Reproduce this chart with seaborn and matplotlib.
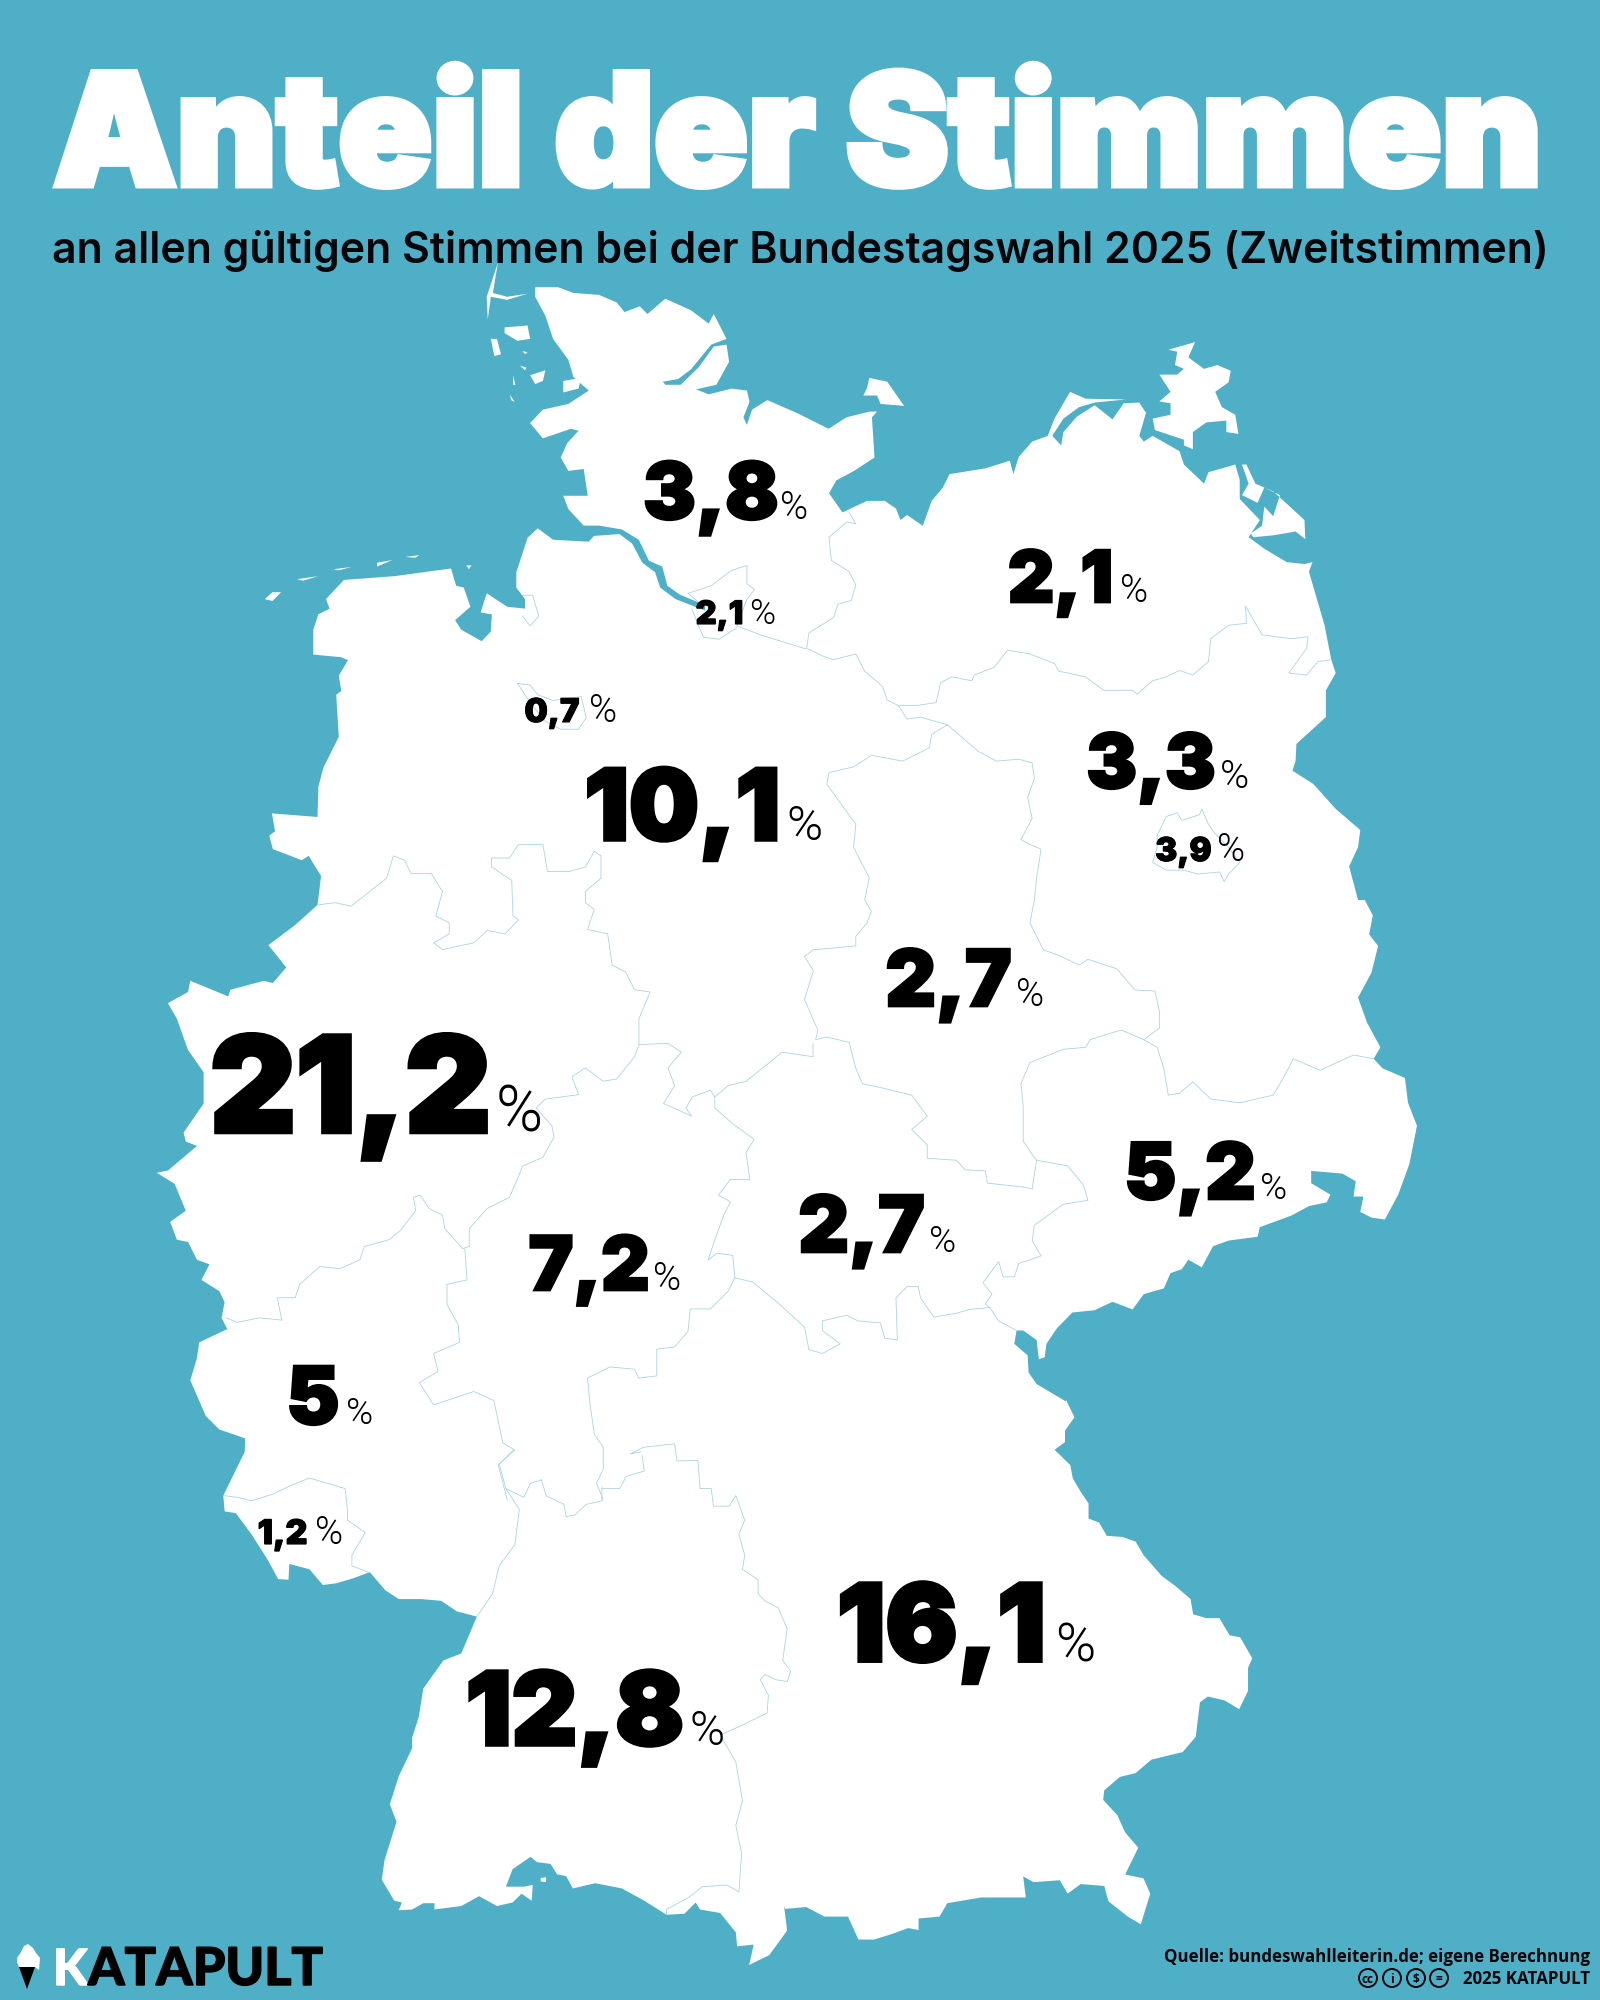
import pandas as pd
import matplotlib.pyplot as plt
import matplotlib.patheffects as pe
from matplotlib.patches import Circle
import seaborn as sns

BG = "#4fafc6"
LINE = "#a9d5e0"
INK = "#05050a"

# crops the outline was traced in: x0, y0, w, h, all shown on a 1568 square
C1 = (150, 270, 800, 600)
C2 = (800, 300, 700, 600)
C3 = (130, 800, 700, 700)
C4 = (800, 900, 700, 600)
C5 = (180, 1450, 700, 550)
C6 = (780, 1400, 820, 600)


def px(crop, pts):
    x0, y0, w, h = crop
    return [(x0 + a * w / 1568, y0 + b * h / 1568) for a, b in pts]


# election result per state
states = ["SH", "HH", "MV", "HB", "NI", "BB", "BE", "ST", "NW", "HE", "TH", "SN", "RP", "SL", "BW", "BY"]
shares = [3.8, 2.1, 2.1, 0.7, 10.1, 3.3, 3.9, 2.7, 21.2, 7.2, 2.7, 5.2, 5, 1.2, 12.8, 16.1]

# label placement, in pixels
num_left = [647, 697, 1011, 526, 590, 1090, 1157, 889, 218, 532, 802, 1128, 288, 259, 472, 843]
num_right = [775, 742, 1110, 578, 775, 1212, 1210, 1008, 483, 646, 921, 1252, 338, 306, 678, 1040]
base_y = [519, 624, 602, 722, 840, 788, 861, 1006, 1132, 1290, 1252, 1199, 1424, 1544, 1745, 1661]
num_h = [65, 27, 66, 25, 84, 65, 27, 65, 109, 65, 64, 65, 64, 28, 85, 94]
pct_x = [780, 749, 1120, 589, 786, 1220, 1217, 1016, 496, 653, 929, 1260, 346, 315, 689, 1055]
pct_h = [28, 26, 28, 28, 36, 29, 28, 28, 47, 28, 27, 27, 27, 28, 35, 40]

coast_1 = [(755, 45), (800, 45), (830, 60), (880, 65), (915, 85), (930, 110), (960, 95), (975, 115), (1010, 75),
           (1060, 105), (1095, 140), (1105, 115), (1130, 180), (1100, 195), (1060, 260), (1035, 285), (1005, 292),
           (1010, 300), (1040, 300), (1075, 255), (1105, 200), (1130, 195), (1135, 240), (1110, 300), (1070, 312),
           (1095, 325), (1140, 310), (1170, 315), (1175, 345), (1163, 385), (1170, 405), (1180, 365), (1210, 340),
           (1270, 375), (1330, 415), (1365, 385), (1410, 370), (1425, 370), (1415, 385), (1420, 490), (1380, 525),
           (1345, 550)]
coast_2 = [(65, 505), (95, 555), (150, 525), (190, 525), (215, 545), (225, 575), (240, 562), (275, 590), (295, 525),
           (320, 490), (335, 455), (415, 440), (470, 420), (478, 455), (490, 410), (520, 370), (555, 355), (570, 310),
           (605, 240), (640, 258), (730, 260), (660, 268), (625, 280), (590, 310), (565, 355), (585, 380), (590, 345),
           (620, 305), (660, 275), (700, 312), (725, 270), (760, 268), (775, 295), (760, 355), (770, 370), (790, 355),
           (850, 395), (860, 430), (905, 480), (915, 450), (975, 430), (985, 470), (985, 520), (1030, 575), (1005, 620),
           (1040, 650), (1090, 685), (1130, 690), (1148, 685), (1140, 710), (1155, 770), (1175, 850), (1190, 940),
           (1200, 975), (1178, 1020), (1178, 1090), (1112, 1160), (1110, 1205), (1103, 1230), (1150, 1265), (1200, 1330),
           (1255, 1385), (1250, 1430), (1230, 1480), (1250, 1568)]
coast_4 = [(1265, 0), (1283, 40), (1275, 90), (1295, 120), (1280, 190), (1250, 255), (1270, 320), (1300, 385), (1285, 415),
           (1305, 440), (1355, 465), (1362, 530), (1382, 590), (1365, 690), (1340, 770), (1310, 835), (1280, 830),
           (1255, 815), (1262, 775), (1240, 775), (1245, 735), (1215, 715), (1145, 708), (1145, 740), (1188, 770),
           (1180, 790), (1140, 800), (1100, 825), (1030, 855), (1025, 880), (960, 890), (925, 905), (900, 960), (870, 940),
           (855, 965), (830, 975), (815, 1015), (770, 1030), (745, 1070), (700, 1050), (660, 1072), (610, 1078), (575, 1120),
           (552, 1160), (548, 1195), (535, 1200), (530, 1150), (500, 1125), (485, 1125), (480, 1160), (510, 1190), (512, 1235),
           (530, 1265), (595, 1310)]
coast_6 = [(547, 0), (563, 45), (545, 80), (545, 110), (525, 130), (555, 170), (560, 205), (575, 240), (590, 270), (590, 310),
           (610, 320), (625, 355), (655, 358), (680, 370), (695, 405), (730, 460), (755, 485), (785, 520), (790, 560), (815, 570),
           (840, 570), (860, 615), (880, 620), (903, 675), (895, 700), (895, 760), (878, 808), (850, 785), (818, 775), (803, 790),
           (795, 880), (770, 920), (710, 940), (680, 975), (650, 985), (620, 1020), (618, 1045), (645, 1085), (660, 1130),
           (685, 1170), (660, 1240), (695, 1250), (708, 1290), (690, 1370), (665, 1350), (628, 1310), (620, 1270), (575, 1265),
           (550, 1290), (535, 1255), (485, 1260), (465, 1245), (470, 1300), (385, 1300), (320, 1315), (305, 1350), (265, 1355),
           (265, 1385), (245, 1380), (215, 1395), (180, 1410), (150, 1410), (130, 1350), (85, 1350), (50, 1325), (10, 1330), (5, 1315)]
coast_5 = [(1352, 1290), (1360, 1370), (1320, 1440), (1275, 1468), (1285, 1410), (1248, 1415), (1245, 1375), (1210, 1320),
           (1165, 1310), (1155, 1290), (1130, 1322), (1090, 1325), (1040, 1285), (990, 1250), (930, 1235), (880, 1250), (865, 1215),
           (845, 1210), (830, 1180), (800, 1175), (785, 1160), (745, 1195), (730, 1245), (770, 1245), (790, 1240), (788, 1285),
           (765, 1265), (745, 1290), (710, 1300), (670, 1272), (630, 1300), (570, 1310), (570, 1292), (545, 1292), (520, 1310),
           (490, 1312), (497, 1290), (480, 1285), (452, 1225), (458, 1170), (485, 1060), (470, 1010), (490, 930), (520, 850),
           (520, 820), (535, 760), (545, 680), (590, 600), (630, 580), (665, 475), (620, 460), (585, 430), (540, 425), (490, 425),
           (460, 400), (425, 348), (390, 365), (350, 380), (320, 385), (290, 340), (245, 325), (243, 370), (220, 368), (195, 310),
           (160, 240), (125, 180), (100, 175), (97, 130), (145, 5)]
coast_3 = [(258, 1430), (200, 1410), (170, 1380), (135, 1300), (150, 1250), (155, 1215), (218, 1185), (205, 1160), (212, 1125),
           (200, 1100), (160, 1075), (178, 1040), (150, 1030), (130, 990), (105, 985), (90, 945), (125, 920), (100, 860), (60, 835),
           (85, 830), (150, 775), (125, 765), (120, 745), (165, 680), (165, 610), (130, 560), (105, 490), (85, 455), (130, 430),
           (135, 405), (220, 440), (225, 425), (300, 405), (320, 410), (350, 375), (310, 325), (370, 280), (420, 235), (428, 170),
           (400, 125), (385, 135), (320, 110), (312, 80), (325, 70), (318, 30), (420, 38)]
coast_1b = [(330, 1350), (340, 1300), (370, 1220), (365, 1110), (375, 1100), (370, 1060), (388, 1020), (375, 1012), (320, 1005),
            (320, 940), (330, 900), (352, 885), (345, 860), (380, 810), (480, 800), (590, 780), (600, 825), (615, 830), (628, 880),
            (598, 915), (610, 940), (650, 970), (668, 945), (670, 900), (648, 895), (660, 845), (700, 880), (735, 885), (735, 860),
            (718, 830), (718, 790), (740, 700), (760, 675), (790, 705), (860, 710), (870, 695), (920, 690), (945, 715), (965, 765),
            (990, 790), (1000, 830), (1030, 860), (1088, 890), (1088, 876), (1038, 848), (1014, 825), (1004, 775), (978, 760), (958, 705),
            (925, 678), (880, 668), (850, 668), (820, 625), (810, 590), (858, 590), (850, 520), (820, 525), (805, 490), (818, 452),
            (840, 420), (825, 415), (770, 440), (745, 400), (770, 365), (820, 350), (860, 315), (830, 280), (820, 235), (790, 180),
            (775, 120), (755, 70)]

islands = [
    (C1, [(682, -20), (672, 60), (700, 70), (740, 62), (700, 78), (668, 70), (662, 130), (660, 70)]),
    (C1, [(695, 150), (740, 145), (745, 180), (720, 185), (695, 165)]),
    (C1, [(668, 180), (680, 180), (688, 220), (675, 225)]),
    (C1, [(730, 212), (740, 215), (735, 220)]),
    (C1, [(725, 250), (738, 255), (735, 262)]),
    (C1, [(745, 275), (775, 262), (770, 290), (755, 298)]),
    (C1, [(810, 290), (845, 282), (840, 310), (810, 320)]),
    (C1, [(712, 275), (716, 300), (712, 300)]),
    (C1, [(705, 325), (715, 345), (708, 340)]),
    (C1, [(1410, 282), (1445, 292), (1478, 355), (1432, 350), (1425, 328), (1398, 328), (1405, 310)]),
    (C1, [(225, 860), (240, 842), (257, 842), (240, 865)]),
    (C1, [(288, 808), (330, 800), (300, 812)]),
    (C1, [(360, 782), (395, 776), (370, 785)]),
    (C1, [(445, 765), (475, 758), (445, 775)]),
    (C1, [(500, 750), (528, 745), (520, 752)]),
    (C1, [(620, 772), (630, 772), (625, 782)]),
    (C2, [(825, 130), (885, 110), (870, 150), (905, 180), (935, 170), (965, 185), (960, 215), (930, 240), (945, 280), (975, 300),
          (982, 350), (955, 345), (955, 315), (910, 320), (880, 345), (880, 390), (860, 380), (860, 365), (795, 340), (790, 310),
          (830, 300), (830, 270), (805, 265), (830, 240), (805, 195), (845, 195), (860, 180), (840, 170), (845, 135)]),
    (C2, [(990, 430), (1000, 430), (1020, 480), (1060, 500), (1130, 575), (1132, 625), (1110, 605), (1060, 615), (1015, 620),
          (1010, 610), (1035, 590), (1040, 540), (1060, 565), (1075, 510), (1040, 490), (1025, 530), (990, 510), (1005, 480)]),
    (C5, [(808, 1220), (820, 1218), (820, 1232), (808, 1230)]),
]

borders = [
    (C2, [(110, 555), (125, 585), (105, 580), (65, 620), (70, 680), (110, 710), (125, 745), (115, 785), (85, 795), (75, 830), (20, 870),
          (15, 910), (50, 930), (75, 940), (125, 925), (145, 970), (185, 1010), (195, 1045), (220, 1060), (260, 1060), (305, 1052),
          (315, 1000), (340, 985), (385, 995), (390, 980), (435, 960), (465, 915), (515, 925), (570, 950), (580, 970), (640, 985),
          (680, 1020), (745, 1020), (755, 1030), (790, 995), (820, 985), (850, 968), (880, 980), (915, 945), (920, 885), (960, 850),
          (1000, 845), (998, 800), (1035, 875), (1100, 885), (1138, 880), (1135, 910), (1095, 975), (1135, 980), (1160, 945), (1190, 940)]),
    (C2, [(220, 1060), (240, 1095), (270, 1090), (330, 1110), (400, 1180), (440, 1205), (490, 1200), (520, 1210), (525, 1250), (510, 1300),
          (520, 1355), (495, 1410), (510, 1420), (540, 1435), (530, 1510), (525, 1568)]),
    (C2, [(330, 1110), (295, 1135), (290, 1170), (230, 1205), (160, 1190), (120, 1220), (65, 1235), (60, 1265), (100, 1330), (125, 1370),
          (120, 1430), (155, 1510), (145, 1568)]),
    (C4, [(145, 0), (160, 30), (150, 60), (125, 95), (125, 120), (30, 130), (10, 148), (30, 185), (10, 260), (40, 340), (35, 365), (60, 358),
          (110, 372), (125, 440), (140, 480), (180, 490), (250, 510), (285, 565), (250, 600), (285, 640), (285, 675), (350, 680), (370, 705),
          (415, 708), (420, 740), (500, 750), (520, 755), (530, 680)]),
    (C4, [(525, 0), (515, 60), (545, 130), (580, 145), (625, 170), (645, 155), (710, 180), (750, 235), (795, 238), (805, 290), (805, 335), (770, 365)]),
    (C4, [(770, 365), (720, 340), (690, 350), (650, 365), (640, 385), (590, 390), (515, 425), (495, 480), (500, 540), (500, 630), (520, 665), (530, 680)]),
    (C4, [(770, 365), (800, 385), (815, 440), (825, 510), (850, 505), (880, 475), (920, 520), (985, 530), (1060, 510), (1085, 460), (1105, 415),
          (1165, 445), (1240, 405), (1285, 415)]),
    (C4, [(530, 680), (600, 695), (635, 745), (645, 785), (590, 795), (525, 850), (520, 890), (540, 930), (490, 950), (480, 985), (455, 985),
          (445, 945), (410, 1000), (430, 1030), (415, 1055), (425, 1065), (445, 1100), (485, 1125)]),
    (C4, [(425, 1065), (380, 1070), (350, 1080), (300, 1090), (270, 1040), (265, 1010), (240, 1010), (215, 1040), (218, 1150), (190, 1145),
          (180, 1105), (130, 1100), (105, 1085), (50, 1100), (50, 1125), (90, 1160), (50, 1185), (20, 1175), (10, 1115)]),
    (C3, [(1355, 1070), (1395, 1080), (1450, 1125), (1510, 1180)]),
    (C3, [(1355, 1070), (1340, 1100), (1300, 1140), (1255, 1140), (1250, 1190), (1220, 1225), (1180, 1230), (1180, 1290), (1140, 1295), (1130, 1275),
          (1075, 1270), (1025, 1295), (1030, 1350), (1040, 1420), (1060, 1450), (1060, 1500), (1045, 1530), (1060, 1568)]),
    (C3, [(1355, 1070), (1350, 1020), (1315, 1015), (1295, 1030), (1310, 985), (1330, 930), (1345, 900), (1318, 885), (1345, 850), (1388, 850),
          (1380, 790), (1398, 760), (1350, 725), (1310, 690), (1310, 665), (1300, 650), (1260, 665), (1245, 690), (1258, 708), (1195, 680), (1220, 640),
          (1205, 600), (1235, 565), (1205, 545), (1140, 548)]),
    (C3, [(1310, 665), (1340, 640), (1380, 630), (1430, 590), (1460, 565), (1530, 575), (1530, 545)]),
    (C3, [(420, 235), (460, 230), (495, 238), (575, 175), (590, 125), (615, 135), (630, 165), (675, 165), (700, 205), (685, 260), (715, 275), (715, 300),
          (680, 320), (700, 335), (770, 320), (800, 292), (840, 300), (870, 268), (858, 260), (855, 180), (810, 150), (810, 130), (850, 130), (870, 100),
          (925, 100), (935, 160), (985, 160), (1020, 150), (1040, 115), (1055, 125), (1055, 175), (1020, 205), (1020, 230), (1040, 245), (1025, 290),
          (1070, 300), (1080, 370), (1110, 385), (1130, 425), (1165, 430), (1140, 490), (1140, 548)]),
    (C3, [(1140, 548), (1130, 575), (1090, 625), (1060, 630), (1020, 600), (990, 620), (1005, 660), (930, 670), (910, 690), (945, 730), (950, 755), (925, 800),
          (880, 820), (850, 890), (800, 915), (760, 960), (760, 1000)]),
    (C3, [(760, 1000), (745, 1005), (705, 960), (700, 930), (670, 915), (650, 885), (635, 890), (640, 920), (605, 965), (580, 985), (525, 1000), (515, 1030),
          (470, 1050), (425, 1045), (380, 1085), (370, 1115), (330, 1115), (340, 1165), (290, 1160), (240, 1170), (215, 1160)]),
    (C3, [(750, 1005), (755, 1075), (710, 1085), (710, 1130), (735, 1175), (738, 1215), (680, 1240), (690, 1280), (648, 1305), (680, 1355), (770, 1325),
          (815, 1345), (835, 1440), (860, 1455), (825, 1490), (845, 1568)]),
    (C5, [(750, 0), (715, 40), (730, 110), (760, 170), (750, 270), (715, 330), (700, 410), (665, 475)]),
    (C5, [(730, 110), (770, 135), (785, 95), (810, 85), (820, 130), (860, 155), (865, 190), (885, 185), (910, 155), (945, 145), (945, 105)]),
    (C5, [(945, 110), (985, 110), (1000, 75), (1040, 60), (1035, 15)]),
    (C3, [(1145, 1460), (1120, 1465), (1150, 1450), (1220, 1442), (1225, 1480)]),
    (C5, [(1113, 31), (1160, 30), (1165, 110), (1190, 110), (1195, 160), (1230, 160), (1245, 130), (1265, 200), (1252, 240), (1265, 300), (1260, 340), (1295, 370),
          (1295, 410), (1310, 430), (1340, 450), (1360, 510), (1350, 600), (1368, 630), (1360, 660), (1335, 655), (1310, 640), (1300, 655), (1318, 700), (1315, 750),
          (1250, 790), (1210, 812), (1245, 890), (1260, 1000), (1245, 1070), (1258, 1150), (1252, 1260), (1225, 1240), (1170, 1245), (1140, 1275), (1090, 1310), (1090, 1325)]),
    (C5, [(97, 130), (130, 135), (160, 145), (210, 125), (250, 100), (290, 80), (330, 95), (370, 110), (375, 170), (375, 200), (415, 235), (385, 300), (385, 330), (425, 350)]),
    (C1, [(1085, 880), (1055, 845), (1100, 825), (1140, 785), (1170, 772), (1170, 820), (1185, 835), (1170, 860), (1150, 930), (1200, 955), (1285, 990)]),
    (C1, [(1062, 885), (1075, 930), (1085, 960), (1115, 965), (1150, 935)]),
    (C1, [(730, 850), (750, 850), (762, 905), (745, 930), (730, 905)]),
    (C1, [(720, 1080), (745, 1085), (760, 1110), (790, 1125), (845, 1115), (855, 1170), (840, 1200), (805, 1200), (775, 1180), (745, 1130), (720, 1080)]),
    (C2, [(800, 1400), (820, 1350), (845, 1340), (855, 1360), (895, 1345), (900, 1330), (915, 1370), (930, 1395), (960, 1430), (985, 1470), (960, 1500), (950, 1520),
          (940, 1495), (890, 1500), (860, 1490), (820, 1490), (790, 1470), (800, 1430), (800, 1400)]),
]

outline = (px(C1, coast_1) + px(C2, coast_2) + px(C4, coast_4) + px(C6, coast_6)
           + px(C5, coast_5) + px(C3, coast_3) + px(C1, coast_1b))

rows = []
for i, (crop, pts) in enumerate(borders):
    for x, y in px(crop, pts):
        rows.append({"border": i, "x": x, "y": y})
border_df = pd.DataFrame(rows)

sns.set_theme(style="white")
plt.rcParams["font.family"] = ["Inter", "DejaVu Sans"]

fig = plt.figure(figsize=(16, 20), dpi=100, facecolor=BG)
ax = fig.add_axes([0, 0, 1, 1])
ax.set_facecolor(BG)

ax.fill(*zip(*outline), color="white", lw=0, zorder=1)
for crop, pts in islands:
    ax.fill(*zip(*px(crop, pts)), color="white", lw=0, zorder=1)

sns.lineplot(data=border_df, x="x", y="y", units="border", estimator=None, sort=False,
             color=LINE, lw=0.6, legend=False, ax=ax, zorder=2)

ax.set_xlim(0, 1600)
ax.set_ylim(2000, 0)
ax.axis("off")

renderer = fig.canvas.get_renderer()


def fit_width(t, width):
    # shrink or grow a text until it spans the given pixel width
    t.set_fontsize(t.get_fontsize() * width / t.get_window_extent(renderer).width)


def thick(lw, color):
    return [pe.withStroke(linewidth=lw, foreground=color, joinstyle="miter")]


for i, state in enumerate(states):
    h = num_h[i]
    txt = f"{shares[i]:g}".replace(".", ",")
    t = ax.text((num_left[i] + num_right[i]) / 2, base_y[i], txt, fontsize=h, fontweight=900,
                ha="center", va="baseline", color="black", zorder=4)
    # wider than the original face: give up some height so the figure stays near its slot
    width = (num_right[i] - num_left[i]) * 1.06
    if t.get_window_extent(renderer).width > width:
        fit_width(t, width)
    t.set_path_effects(thick(h * 0.03, "black"))
    ax.text(pct_x[i], base_y[i], "%", fontsize=pct_h[i] * 0.98, family="Roboto", fontweight=300,
            ha="left", va="baseline", color="black", zorder=4)

title = ax.text(798, 185, "Anteil der Stimmen", fontsize=118, fontweight=900, ha="center", va="baseline", color="white")
fit_width(title, 1488)
title.set_path_effects(thick(5, "white"))

sub = ax.text(800, 263, "an allen gültigen Stimmen bei der Bundestagswahl 2025 (Zweitstimmen)", fontsize=31,
              fontweight=600, ha="center", va="baseline", color=INK)
fit_width(sub, 1498)

# logo
ax.fill([17, 21, 24, 28, 33, 36, 40, 39, 35, 19, 17], [1958, 1952, 1946, 1944, 1948, 1953, 1958, 1970, 1967, 1967, 1962],
        color="white", lw=0, zorder=3)
ax.fill([19, 35, 27], [1967, 1967, 1989], color="black", lw=0, zorder=3)
ax.text(53, 1985, "K", fontsize=36, family="Lato", fontweight=900, color="white", ha="left", va="baseline",
        path_effects=thick(1, "white"))
logo = ax.text(88, 1985, "ATAPULT", fontsize=36, family="Lato", fontweight=900, color="black", ha="left", va="baseline",
               path_effects=thick(1, "black"))
fit_width(logo, 235)

# source lines
src = ax.text(1590, 1962, "Quelle: bundeswahlleiterin.de; eigene Berechnung", fontsize=14, family="Open Sans", fontweight=700,
              color=INK, ha="right", va="baseline")
fit_width(src, 427)
year = ax.text(1590, 1984, "2025 KATAPULT", fontsize=src.get_fontsize(), family="Open Sans", fontweight=700, color=INK,
               ha="right", va="baseline")
for cx, sign in zip([1368, 1392, 1416, 1439], ["cc", "i", "$", "="]):
    ax.add_patch(Circle((cx, 1978), 9, fc="none", ec=INK, lw=1.4, zorder=3))
    ax.text(cx, 1978, sign, fontsize=8.5, family="Open Sans", fontweight=700, color=INK, ha="center", va="center_baseline")

fig.savefig("out.png", dpi=100)
